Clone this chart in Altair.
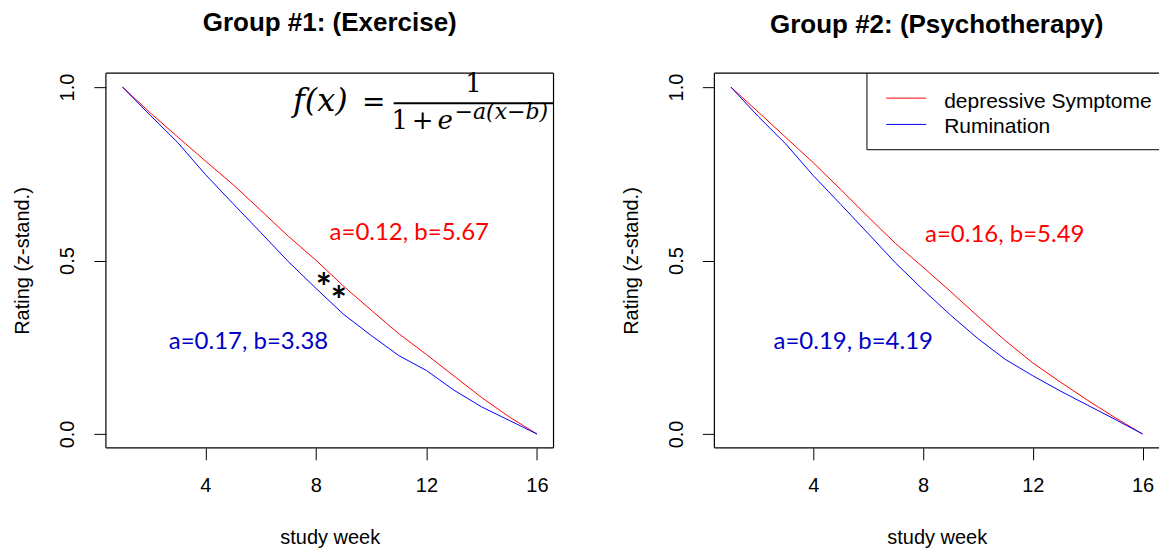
import altair as alt
import pandas as pd

weeks = list(range(1, 17))
g1_dep = [1.0, 0.926, 0.856, 0.787, 0.719, 0.645, 0.570, 0.501, 0.426, 0.357, 0.289, 0.229, 0.167, 0.105, 0.049, 0.0]
g1_rum = [1.0, 0.919, 0.840, 0.748, 0.664, 0.581, 0.497, 0.420, 0.345, 0.284, 0.226, 0.183, 0.126, 0.078, 0.039, 0.0]
g2_dep = [1.0, 0.928, 0.855, 0.782, 0.705, 0.626, 0.549, 0.481, 0.411, 0.339, 0.269, 0.205, 0.150, 0.097, 0.047, 0.0]
g2_rum = [1.0, 0.915, 0.836, 0.745, 0.662, 0.578, 0.493, 0.416, 0.343, 0.275, 0.215, 0.168, 0.124, 0.083, 0.042, 0.0]

series_names = ["depressive Symptome", "Rumination"]
series_colors = ["#FF0000", "#0000FF"]
titles = ["Group #1: (Exercise)", "Group #2: (Psychotherapy)"]

# parameter annotations: (x, y, text, colour)
ann1 = [(11.38, 0.578, "a=0.12, b=5.67", "#FF0000"), (5.56, 0.266, "a=0.17, b=3.38", "#0000C8")]
ann2 = [(10.98, 0.574, "a=0.16, b=5.49", "#FF0000"), (5.46, 0.266, "a=0.19, b=4.19", "#0000C8")]
stars = [(8.29, 0.439), (8.83, 0.401)]

XDOM = [0.4, 16.6]
YDOM = [-0.04, 1.04]
H = 375
BORDER = 1.2

def long_df(dep, rum):
    rows = []
    for w, v in zip(weeks, dep):
        rows.append({"week": w, "value": v, "series": series_names[0]})
    for w, v in zip(weeks, rum):
        rows.append({"week": w, "value": v, "series": series_names[1]})
    return pd.DataFrame(rows)

xenc = alt.X("week:Q", scale=alt.Scale(domain=XDOM, nice=False, zero=False),
             axis=alt.Axis(values=[4, 8, 12, 16], title="study week"))
yenc = alt.Y("value:Q", scale=alt.Scale(domain=YDOM, nice=False, zero=False),
             axis=alt.Axis(values=[0, 0.5, 1.0], format=".1f", title="Rating (z-stand.)"))

def panel(dep, rum, ann, title, width, formula=False, legend=False, star=False):
    df = long_df(dep, rum)
    lines = alt.Chart(df).mark_line(strokeWidth=1, clip=True).encode(
        x=xenc, y=yenc,
        color=alt.Color("series:N", scale=alt.Scale(domain=series_names, range=series_colors), legend=None),
    )
    adf = pd.DataFrame([{"week": a[0], "value": a[1], "label": a[2], "col": a[3]} for a in ann])
    atext = alt.Chart(adf).mark_text(font="Lato", fontSize=24, baseline="middle", align="center").encode(
        x="week:Q", y="value:Q", text="label:N", color=alt.Color("col:N", scale=None)
    )
    layers = [lines, atext]
    one = alt.Chart(pd.DataFrame({"t": ["x"]}))
    if star:
        sdf = pd.DataFrame({"week": [s[0] for s in stars], "value": [s[1] for s in stars], "t": ["*", "*"]})
        layers.append(alt.Chart(sdf).mark_text(font="Lato", fontSize=38, fontWeight="bold", align="center",
                                               baseline="alphabetic", dy=19, color="black").encode(
            x="week:Q", y="value:Q", text="t:N"))
    if formula:
        layers += [
            one.mark_text(text="f(x)", font="DejaVu Serif", fontStyle="italic", fontSize=32, align="center", baseline="alphabetic", color="black").encode(
                x=alt.value(214.7), y=alt.value(38.3)),
            one.mark_text(text="=", font="DejaVu Serif", fontSize=28, align="center", baseline="alphabetic", color="black").encode(
                x=alt.value(268), y=alt.value(38.3)),
            one.mark_text(text="1", font="DejaVu Serif", fontSize=26, align="center", baseline="alphabetic", color="black").encode(
                x=alt.value(368), y=alt.value(19)),
            one.mark_rule(color="black", strokeWidth=2).encode(
                x=alt.value(288), x2=alt.value(width), y=alt.value(30)),
            one.mark_text(text="1", font="DejaVu Serif", fontSize=26, align="center", baseline="alphabetic", color="black").encode(
                x=alt.value(294), y=alt.value(55.6)),
            one.mark_text(text="+", font="DejaVu Serif", fontSize=26, align="center", baseline="alphabetic", color="black").encode(
                x=alt.value(317), y=alt.value(55.6)),
            one.mark_text(text="e", font="DejaVu Serif", fontStyle="italic", fontSize=26, align="left", baseline="alphabetic", color="black").encode(
                x=alt.value(332), y=alt.value(55.6)),
            one.mark_text(text="\u2212a(x\u2212b)", font="DejaVu Serif", fontStyle="italic", fontSize=22, align="left", baseline="alphabetic", color="black").encode(
                x=alt.value(349), y=alt.value(45.6)),
        ]
    if legend:
        ldf = pd.DataFrame({"series": series_names, "col": series_colors, "ly": [25, 51.3], "ty": [35, 60]})
        lb = alt.Chart(ldf)
        layers += [
            one.mark_rect(fill="white").encode(
                x=alt.value(152.7), x2=alt.value(width), y=alt.value(0), y2=alt.value(76.6)),
            one.mark_rule(color="black", strokeWidth=1).encode(
                x=alt.value(152.7), y=alt.value(0), y2=alt.value(76.6)),
            one.mark_rule(color="black", strokeWidth=1).encode(
                x=alt.value(152.7), x2=alt.value(width), y=alt.value(76.6)),
            lb.mark_rule(strokeWidth=1).encode(
                x=alt.value(172), x2=alt.value(212), y=alt.Y("ly:Q", scale=None),
                color=alt.Color("col:N", scale=None)),
            lb.mark_text(font="Liberation Sans", fontSize=21, align="left", baseline="alphabetic", color="black").encode(
                x=alt.value(230), y=alt.Y("ty:Q", scale=None), text="series:N"),
        ]
    # plot box drawn as rules: left, top, bottom (right edge lies at the window edge)
    layers += [
        one.mark_rule(color="black", strokeWidth=BORDER).encode(x=alt.value(0), y=alt.value(0), y2=alt.value(H)),
        one.mark_rule(color="black", strokeWidth=BORDER).encode(x=alt.value(0), x2=alt.value(width), y=alt.value(0)),
        one.mark_rule(color="black", strokeWidth=BORDER).encode(x=alt.value(0), x2=alt.value(width), y=alt.value(H)),
    ]
    if not legend:
        layers.append(one.mark_rule(color="black", strokeWidth=BORDER).encode(
            x=alt.value(width), y=alt.value(0), y2=alt.value(H)))
    return alt.layer(*layers).properties(
        width=width, height=H,
        title=alt.TitleParams(title, fontSize=26, fontWeight="bold", font="Liberation Sans", anchor="middle",
                              frame="group", offset=14, baseline="alphabetic", color="black"),
    ).resolve_scale(color="independent")

left = panel(g1_dep, g1_rum, ann1, titles[0], 448, formula=True, star=True)
right = panel(g2_dep, g2_rum, ann2, titles[1], 445, legend=True)

chart = alt.hconcat(left, right, spacing=67).properties(
    padding={"left": 13, "top": 10, "right": 0, "bottom": 0}
).configure_view(stroke=None).configure_axis(
    grid=False, domain=False, tickColor="black", tickSize=12,
    labelFont="Liberation Sans", labelFontSize=20, labelColor="black",
    titleFont="Liberation Sans", titleFontSize=20, titleFontWeight="normal", titleColor="black",
).configure_axisX(labelPadding=16, titlePadding=32).configure_axisY(
    labelAngle=270, labelAlign="center", labelBaseline="bottom", labelPadding=16, titlePadding=25
)

chart.save("out.html", embed_options={"renderer": "svg", "actions": False})
